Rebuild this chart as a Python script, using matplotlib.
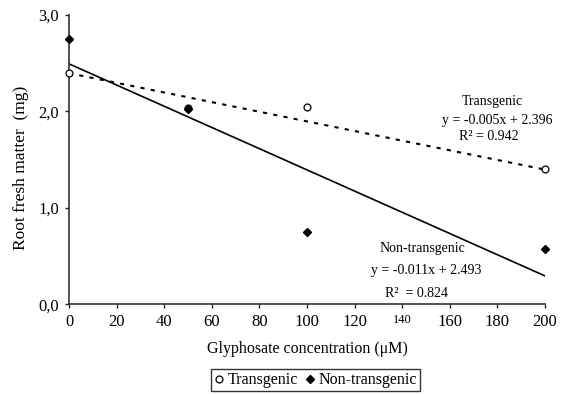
import numpy as np
import matplotlib

matplotlib.use("Agg")

import matplotlib.pyplot as plt

plt.rcParams["font.family"] = ["Liberation Serif", "DejaVu Serif"]

conc = [0, 50, 100, 200]
transgenic = [2.40, 2.04, 2.05, 1.40]
non_transgenic = [2.75, 2.02, 0.75, 0.57]

# regression coefficients as printed on the chart
fit_trans = [-0.005, 2.396]
fit_non = [-0.011, 2.493]

x_ticks = [0, 20, 40, 60, 80, 100, 120, 140, 160, 180, 200]
y_ticks = [0.0, 1.0, 2.0, 3.0]
y_tick_labels = ["0,0", "1,0", "2,0", "3,0"]

fig = plt.figure(figsize=(5.63, 3.94), dpi=100)
ax = fig.add_axes([0.1226, 0.228, 0.8454, 0.734])

xl = np.array([0, 200])
ax.plot(xl, fit_trans[0] * xl + fit_trans[1], color="black", lw=1.5,
        linestyle=(0, (2, 3)))
ax.plot(xl, fit_non[0] * xl + fit_non[1], color="black", lw=1.2)

ax.plot(conc, transgenic, linestyle="none", marker="o", ms=5,
        mfc="white", mec="black", mew=0.9, label="Transgenic", clip_on=False,
        zorder=3)
ax.plot(conc, non_transgenic, linestyle="none", marker="D", ms=4.5,
        color="black", label="Non-transgenic", clip_on=False, zorder=4)

ax.set_xlim(0, 200)
ax.set_ylim(0, 3)
ax.set_xticks(x_ticks)
ax.set_yticks(y_ticks)
ax.set_yticklabels(y_tick_labels)
ax.tick_params(labelsize=12, length=3, width=1, color="#222222", pad=4)
for lbl in ax.get_xticklabels():
    if lbl.get_text() == "140":
        lbl.set_fontsize(9)

for s in ["top", "right"]:
    ax.spines[s].set_visible(False)
for s in ["left", "bottom"]:
    ax.spines[s].set_color("#333333")
    ax.spines[s].set_linewidth(1.2)

ax.set_xlabel("Glyphosate concentration (\u03bcM)", fontsize=11.5, labelpad=8)
ax.set_ylabel("Root fresh matter  (mg)", fontsize=12.5)
ax.yaxis.set_label_coords(-0.084, 0.47)

ax.text(177.7, 2.10, "Transgenic", ha="center", va="center", fontsize=10)
ax.text(179.8, 1.91, "y = -0.005x + 2.396", ha="center", va="center", fontsize=10)
ax.text(176.5, 1.74, "R\u00b2 = 0.942", ha="center", va="center", fontsize=10)

ax.text(148.3, 0.58, "Non-transgenic", ha="center", va="center", fontsize=10)
ax.text(150, 0.35, "y = -0.011x + 2.493", ha="center", va="center", fontsize=10)
ax.text(146, 0.11, "R\u00b2  = 0.824", ha="center", va="center", fontsize=10)

leg = fig.legend(loc="center", bbox_to_anchor=(0.561, 0.035), ncol=2,
                 fontsize=11.5, frameon=True, fancybox=False, handlelength=0.5,
                 handletextpad=0.3, columnspacing=0.5, borderpad=0.2,
                 borderaxespad=0, edgecolor="black")
leg.get_frame().set_linewidth(1.0)

fig.savefig("out.png", dpi=100)
